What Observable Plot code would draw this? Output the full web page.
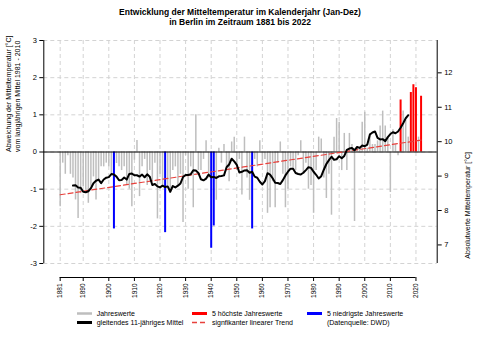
<!DOCTYPE html>
<html><head><meta charset="utf-8">
<script src="https://cdn.jsdelivr.net/npm/d3@7"></script>
<script src="https://cdn.jsdelivr.net/npm/@observablehq/plot@0.6"></script>
<style>
body{margin:0;background:#fff;font-family:"Liberation Sans",Arial,sans-serif;}
#wrap{position:relative;width:489px;height:346px;overflow:hidden;background:#fff}
#title{height:30px;box-sizing:border-box;padding-top:7px;text-align:center;font-weight:bold;font-size:8.5px;line-height:10px;width:394px;margin-left:43px;color:#000}
#chart{height:275px}
#legend{position:relative;height:41px;font-size:7px;color:#000}
.item{position:absolute;display:flex;align-items:center;white-space:nowrap;height:9px;line-height:9px}
.item svg{margin-right:4.7px;flex:none}
</style></head>
<body><div id="wrap">
<div id="title">Entwicklung der Mitteltemperatur im Kalenderjahr (Jan-Dez)<br>in Berlin im Zeitraum 1881 bis 2022</div>
<div id="chart"></div>
<div id="legend"></div>
</div>
<script>
// ---- data (anomalies vs. 1981-2010, °C) ----
const startYear = 1881;
const anomalies = [
  -1.47,-0.30,-0.60,-0.10,-0.60,-0.70,-1.29,-1.79,-1.12,-0.94, // 1881-1890
  -1.03,-1.38,-0.94,-0.67,-1.29,-0.76,-0.40,-0.40,-0.30,-0.40, // 1891-1900
  -0.60,-2.07,-0.31,-0.40,-0.50,-0.40,-0.90,-1.00,-1.47,-0.22, // 1901-1910
   0.31,-1.20,-0.40,-0.20,-0.90,-0.50,-0.80,-0.30,-1.80,-0.60, // 1911-1920
  -0.90,-2.17,-0.90,-1.10,-0.50,-0.40,-0.90,-0.60,-1.90,-0.10, // 1921-1930
  -1.00,-0.40,-1.50, 1.00,-0.50,-0.50,-0.20, 0.30,-0.70,-2.59, // 1931-1940
  -1.99,-1.30, 0.10,-0.30, 0.20,-0.40,-0.80, 0.27, 0.40,-0.50, // 1941-1950
  -0.20,-1.16, 0.40,-0.70,-1.30,-2.07,-0.20,-0.40, 0.30,-0.30, // 1951-1960
  -0.20,-1.65,-1.50,-0.80,-1.50,-0.30, 0.27,-0.60,-1.50,-1.00, // 1961-1970
  -0.40,-0.50,-0.50,-0.10, 0.30,-0.60,-0.30,-1.00,-0.90,-1.65, // 1971-1980
  -0.50, 0.40, 0.35,-0.70,-1.25,-0.60,-1.70, 0.40, 0.90, 0.80, // 1981-1990
  -0.50, 0.50,-0.50, 0.50, 0.20,-1.87, 0.10, 0.10, 0.80, 1.07, // 1991-2000
   0.10, 0.50, 0.20, 0.20, 0.30, 0.70, 1.10, 0.70, 0.40,-1.09, // 2001-2010
   0.60, 0.20,-0.10, 1.40, 1.10, 0.85, 0.40, 1.60, 1.81, 1.73, // 2011-2020
   0.40, 1.50                                                  // 2021-2022
];
const highYears = [2014, 2018, 2019, 2020, 2022];
const lowYears  = [1902, 1922, 1940, 1941, 1956];
const trendYears  = [1881, 2022];
const trendValues = [-1.15, 0.32];
const xTicks = [1881, 1890, 1900, 1910, 1920, 1930, 1940, 1950, 1960, 1970, 1980, 1990, 2000, 2010, 2020];
const yTicks = [-3, -2, -1, 0, 1, 2, 3];
const absTicks = [7, 8, 9, 10, 11, 12];
const absBase = 9.7;     // absolute °C at anomaly 0
const absScale = 0.926;  // right axis: anomaly units per °C
const xDomain = [1874.6, 2028.3];
const yDomain = [-3, 3];

const leftTitle = "Abweichung der Mitteltemperatur [°C]\nvom langjährigen Mittel 1981 - 2010";
const rightTitle = "Absolutwerte Mitteltemperatur [°C]";

const legendItems = [
  {col: 0, row: 0, label: "Jahreswerte", stroke: "#bebebe", width: 2.5, dash: null},
  {col: 0, row: 1, label: "gleitendes 11-jähriges Mittel", stroke: "#000000", width: 3, dash: null},
  {col: 1, row: 0, label: "5 höchste Jahreswerte", stroke: "#ff0000", width: 3, dash: null},
  {col: 1, row: 1, label: "signfikanter linearer Trend", stroke: "#e8413c", width: 1.3, dash: "5,3"},
  {col: 2, row: 0, label: "5 niedrigste Jahreswerte", stroke: "#0000ff", width: 3, dash: null},
  {col: 2, row: 1, label: "(Datenquelle: DWD)", stroke: null, width: 0, dash: null}
];

// ---- build ----
const data = anomalies.map((v, i) => {
  const year = startYear + i;
  const kind = highYears.includes(year) ? "high" : lowYears.includes(year) ? "low" : "normal";
  return {year, value: v, kind};
});
const trend = trendYears.map((y, i) => ({year: y, value: trendValues[i]}));
const colors = {normal: "#bebebe", high: "#ff0000", low: "#0000ff"};
const gridStyle = {stroke: "#d3d3d3", strokeOpacity: 1, strokeDasharray: "4,3", strokeWidth: 1};

const chart = Plot.plot({
  width: 489, height: 275,
  marginTop: 10, marginBottom: 42, marginLeft: 43.3, marginRight: 52.3,
  style: {fontFamily: "Liberation Sans, Arial, sans-serif", fontSize: "7px", background: "white", overflow: "visible", color: "black"},
  x: {domain: xDomain, label: null},
  y: {domain: yDomain, label: null},
  marks: [
    Plot.gridX(xTicks, gridStyle),
    Plot.gridY(yTicks, gridStyle),
    Plot.ruleX(data.filter(d => d.kind === "normal"), {x: "year", y1: 0, y2: "value", stroke: colors.normal, strokeWidth: 1.5}),
    Plot.ruleX(data.filter(d => d.kind !== "normal"), {x: "year", y1: 0, y2: "value", stroke: d => colors[d.kind], strokeWidth: 2}),
    Plot.ruleY([0], {stroke: "black", strokeWidth: 1}),
    Plot.line(trend, {x: "year", y: "value", stroke: "#e8413c", strokeWidth: 1.2, strokeDasharray: "5,3"}),
    Plot.lineY(data, Plot.windowY({k: 11, anchor: "middle", strict: true}, {x: "year", y: "value", stroke: "black", strokeWidth: 2})),
    Plot.ruleX(xDomain, {y1: yDomain[0], y2: yDomain[1], stroke: "black", strokeWidth: 1}),
    Plot.axisY(yTicks, {anchor: "left", tickSize: 4, tickPadding: 3, tickFormat: d => String(d), fontSize: 7.5, label: null}),
    Plot.axisY({anchor: "right", ticks: absTicks.map(t => (t - absBase) * absScale), tickFormat: v => String(Math.round(v / absScale + absBase)), tickSize: 4, tickPadding: 3, fontSize: 7.5, label: null}),
    Plot.axisX(xTicks, {anchor: "bottom", tickSize: 4, tickRotate: -90, tickPadding: 2, dy: 14, tickFormat: d => String(d), fontSize: 6.5, label: null}),
    Plot.ruleY([yDomain[0]], {x1: xTicks[0], x2: xTicks[xTicks.length - 1], dy: 14, stroke: "black", strokeWidth: 1}),
    Plot.text([leftTitle], {frameAnchor: "left", rotate: -90, dx: -31, fontSize: 7, lineHeight: 1.25}),
    Plot.text([rightTitle], {frameAnchor: "right", rotate: -90, dx: 31, fontSize: 7})
  ]
});
document.getElementById("chart").append(chart);

// ---- legend ----
const colX = [77, 192.3, 307.3];
const rowY = [8.3, 17.3];
const legend = document.getElementById("legend");
for (const it of legendItems) {
  const div = document.createElement("div");
  div.className = "item";
  div.style.left = colX[it.col] + "px";
  div.style.top = (rowY[it.row] - 4.5) + "px";
  const sw = it.stroke
    ? `<line x1="0" x2="15" y1="4.5" y2="4.5" stroke="${it.stroke}" stroke-width="${it.width}"${it.dash ? ` stroke-dasharray="${it.dash}"` : ""}/>`
    : "";
  div.innerHTML = `<svg width="15" height="9">${sw}</svg><span>${it.label}</span>`;
  legend.append(div);
}
</script>
</body></html>
